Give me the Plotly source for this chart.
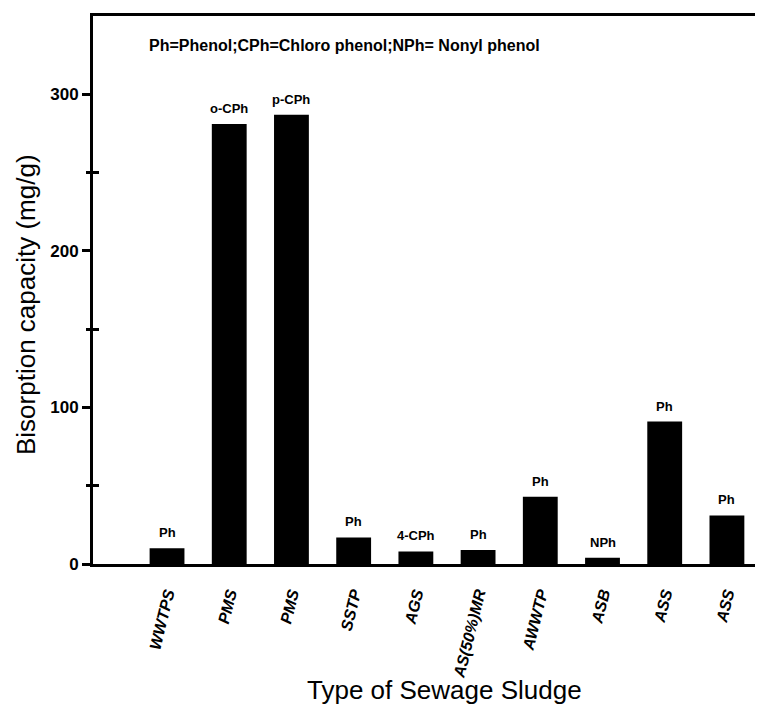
import plotly.graph_objects as go

categories = ["WWTPS", "PMS", "PMS", "SSTP", "AGS", "AS(50%)MR", "AWWTP", "ASB", "ASS", "ASS"]
values = [10, 281, 287, 17, 8, 9, 43, 4, 91, 31]
bar_labels = ["Ph", "o-CPh", "p-CPh", "Ph", "4-CPh", "Ph", "Ph", "NPh", "Ph", "Ph"]
y_major = [0, 100, 200, 300]
y_minor = [50, 150, 250]

FONT = "Liberation Sans, Arial, sans-serif"
xpos = list(range(len(categories)))

fig = go.Figure()
fig.add_trace(go.Bar(
    x=xpos, y=values, width=0.56,
    marker=dict(color="black", line=dict(width=0)),
    showlegend=False, hoverinfo="y",
))
fig.add_trace(go.Scatter(x=[0], y=[0], yaxis="y2", mode="markers",
                         marker=dict(opacity=0), showlegend=False, hoverinfo="skip"))
fig.add_trace(go.Scatter(x=[0], y=[0], yaxis="y3", mode="markers",
                         marker=dict(opacity=0), showlegend=False, hoverinfo="skip"))

minor_axis = dict(
    range=[0, 350], overlaying="y", side="left", anchor="x",
    tickmode="array", tickvals=y_minor, showticklabels=False,
    ticklen=6, tickwidth=2.5, tickcolor="black", automargin=False,
    showline=False, showgrid=False, zeroline=False,
)

annotations = [
    dict(text="Ph=Phenol;CPh=Chloro phenol;NPh= Nonyl phenol",
         xref="paper", yref="paper", x=0.0806, y=0.946, xanchor="left", yanchor="middle",
         showarrow=False, font=dict(family=FONT, size=16, color="black", weight="bold")),
    dict(text="Type of Sewage Sludge",
         xref="paper", yref="paper", x=0.525, y=-0.23, xanchor="center", yanchor="middle",
         showarrow=False, font=dict(family=FONT, size=26, color="black")),
    dict(text="Bisorption capacity (mg/g)", textangle=-90,
         xref="paper", yref="paper", x=-0.1, y=0.4726, xanchor="center", yanchor="middle",
         showarrow=False, font=dict(family=FONT, size=26, color="black")),
]
for xi, v, lab in zip(xpos, values, bar_labels):
    annotations.append(dict(
        text=lab, x=xi, y=v, xref="x", yref="y", xanchor="center", yanchor="bottom",
        yshift=6, showarrow=False,
        font=dict(family=FONT, size=13, color="black", weight="bold"),
    ))

fig.update_layout(
    width=763, height=707,
    margin=dict(l=85, r=8, t=8, b=151),
    paper_bgcolor="white", plot_bgcolor="white",
    font=dict(family=FONT, color="black"),
    xaxis=dict(
        range=[-1.19, 9.58], automargin=False,
        tickmode="array", tickvals=xpos, ticktext=categories,
        tickangle=-76, ticklabelstandoff=11,
        tickfont=dict(family=FONT, size=16, color="black", weight="bold", style="italic"),
        showline=True, linecolor="black", linewidth=3, mirror=True,
        ticks="", showgrid=False, zeroline=False,
    ),
    yaxis=dict(
        range=[0, 350], automargin=False,
        tickmode="array", tickvals=y_major, ticktext=[str(v) for v in y_major],
        tickfont=dict(family=FONT, size=17, color="black", weight="bold"),
        ticks="outside", ticklen=8, tickwidth=2.5, tickcolor="black",
        showline=True, linecolor="black", linewidth=3, mirror=False,
        showgrid=False, zeroline=False,
    ),
    yaxis2=dict(minor_axis, ticks="outside"),
    yaxis3=dict(minor_axis, ticks="inside"),
    annotations=annotations,
)

fig.write_html("out.html")
